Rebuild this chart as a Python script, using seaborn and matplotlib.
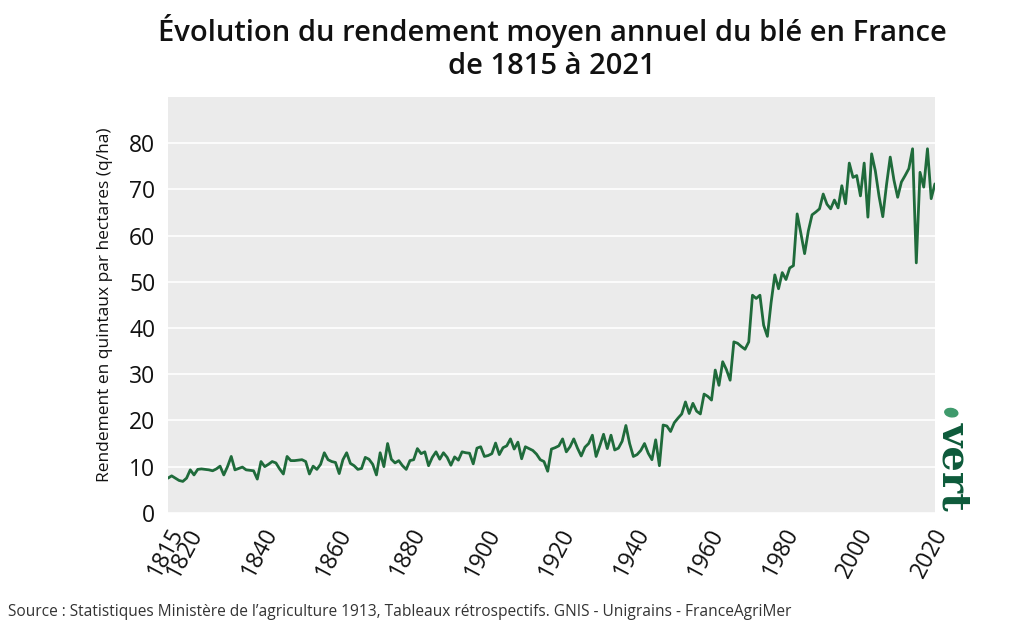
import numpy as np
import pandas as pd
import matplotlib
matplotlib.use("Agg")
import matplotlib.pyplot as plt
from matplotlib.patches import Ellipse
import seaborn as sns

# --- Data (rendement moyen annuel du blé, q/ha) ---
YEAR_START = 1815
YEAR_END = 2021

yield_1815_1849 = [7.5, 8.0, 7.5, 7.0, 6.8, 7.5, 9.3, 8.2, 9.4, 9.5,
                   9.4, 9.3, 9.1, 9.5, 10.1, 8.2, 10.0, 12.2, 9.3, 9.6,
                   9.9, 9.3, 9.2, 9.1, 7.3, 11.1, 10.0, 10.5, 11.1, 10.8,
                   9.5, 8.4, 12.2, 11.3, 11.3]
yield_1850_1889 = [11.4, 11.5, 11.1, 8.4, 10.1, 9.4, 10.5, 13.0, 11.5, 11.1,
                   10.9, 8.5, 11.5, 13.0, 10.7, 10.2, 9.4, 9.6, 12.0, 11.6,
                   10.5, 8.2, 13.0, 10.0, 15.0, 11.6, 10.8, 11.3, 10.2, 9.4,
                   11.3, 11.5, 13.9, 12.8, 13.2, 10.2, 12.0, 13.2, 11.6, 13.0]
yield_1890_1929 = [12.0, 10.3, 12.1, 11.4, 13.2, 13.0, 12.9, 10.6, 14.0, 14.3,
                   12.2, 12.4, 12.8, 15.1, 12.6, 14.1, 14.5, 16.0, 13.8, 15.3,
                   11.7, 14.3, 13.9, 13.5, 12.7, 11.5, 11.1, 9.0, 13.8, 14.1,
                   14.5, 16.0, 13.2, 14.3, 16.0, 14.0, 12.3, 14.2, 15.0, 16.8]
yield_1930_1969 = [12.2, 14.5, 17.0, 13.9, 16.8, 13.6, 14.0, 15.5, 18.9, 15.0,
                   12.2, 12.6, 13.5, 15.0, 12.9, 11.5, 15.8, 10.2, 19.0, 18.8,
                   17.6, 19.5, 20.5, 21.4, 24.0, 21.5, 23.7, 22.0, 21.4, 25.7,
                   25.2, 24.4, 30.9, 27.6, 32.7, 31.0, 28.7, 37.0, 36.7, 36.0]
yield_1970_2021 = [35.4, 37.0, 47.1, 46.4, 47.1, 40.6, 38.2, 45.5, 51.5, 48.5,
                   52.0, 50.5, 53.0, 53.5, 64.7, 60.5, 56.1, 61.0, 64.5, 65.1,
                   65.8, 69.0, 66.8, 65.8, 67.7, 66.0, 70.8, 66.9, 75.7, 72.6,
                   73.0, 68.6, 75.7, 64.0, 77.7, 74.0, 68.5, 64.1, 71.0, 77.0,
                   72.0, 68.3, 71.6, 73.0, 74.5, 78.8, 54.1, 73.7, 70.5, 78.8,
                   68.0, 71.2]

x_ticks = [1815, 1820, 1840, 1860, 1880, 1900, 1920, 1940, 1960, 1980, 2000, 2020]
y_ticks = [0, 10, 20, 30, 40, 50, 60, 70, 80]

TITLE = "Évolution du rendement moyen annuel du blé en France\nde 1815 à 2021"
Y_LABEL = "Rendement en quintaux par hectares (q/ha)"
SOURCE = ("Source : Statistiques Ministère de l’agriculture 1913, Tableaux rétrospectifs. "
          "GNIS - Unigrains - FranceAgriMer")

LINE_COLOR = "#1f6b3b"
BG_COLOR = "#ebebeb"
FONT = ["Open Sans", "DejaVu Sans"]


def build_frame():
    yields = (yield_1815_1849 + yield_1850_1889 + yield_1890_1929
              + yield_1930_1969 + yield_1970_2021)
    years = list(range(YEAR_START, YEAR_END + 1))
    return pd.DataFrame({"annee": years, "rendement": yields})


def plot(df):
    sns.set_theme(style="darkgrid", rc={
        "axes.facecolor": BG_COLOR,
        "grid.color": "white",
        "grid.linewidth": 1.2,
    })
    plt.rcParams["font.family"] = FONT

    fig = plt.figure(figsize=(10.24, 6.3), dpi=100)
    ax = fig.add_axes([0.164, 0.186, 0.749, 0.66])

    sns.lineplot(data=df, x="annee", y="rendement", ax=ax,
                 color=LINE_COLOR, linewidth=2.0)

    ax.set_xlim(YEAR_START, YEAR_END)
    ax.set_ylim(0, 90)
    ax.set_xticks(x_ticks)
    ax.set_yticks(y_ticks)
    ax.xaxis.grid(False)
    ax.set_xlabel("")
    ax.set_ylabel(Y_LABEL, fontsize=12.5, labelpad=12, color="#111111")

    for lab in ax.get_xticklabels():
        lab.set_rotation(62)
        lab.set_ha("right")
        lab.set_rotation_mode("anchor")
    ax.tick_params(axis="x", labelsize=16.5, pad=2, colors="#111111")
    ax.tick_params(axis="y", labelsize=16.5, pad=3, colors="#111111")
    for s in ax.spines.values():
        s.set_visible(False)

    fig.text(0.539, 0.978, TITLE, ha="center", va="top", fontsize=21,
             fontweight="semibold", linespacing=1.2, color="#111111")
    fig.text(0.008, 0.028, SOURCE, ha="left", va="center", fontsize=11.2,
             color="#333333")

    # logo "vert"
    fig.text(0.932, 0.26, "vert", rotation=270, ha="center", va="center",
             fontsize=29, fontweight="bold", family=["DejaVu Serif"],
             color="#0d5a3a")
    fig.patches.append(Ellipse((0.929, 0.345), 0.012, 0.014, angle=35,
                               transform=fig.transFigure, color="#3f9a6c"))

    fig.savefig("out.png", dpi=100, facecolor="white")
    plt.close(fig)


if __name__ == "__main__":
    data = build_frame()
    plot(data)
